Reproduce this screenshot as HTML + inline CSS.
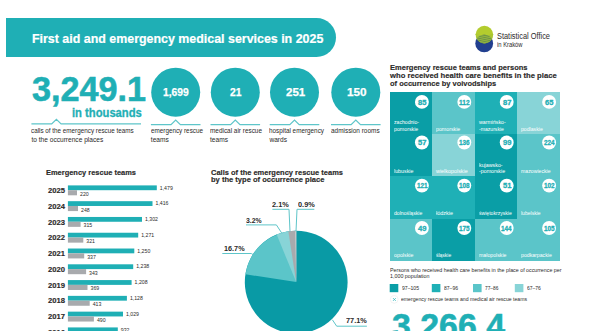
<!DOCTYPE html>
<html><head><meta charset="utf-8"><style>
html,body{margin:0;padding:0;background:#fff;width:590px;height:331px;overflow:hidden;position:relative}
</style></head><body>
<div style="position:absolute;left:6px;top:18px;width:330px;height:39px;background:#1fafb5;border-radius:0 19.5px 19.5px 0"></div>
<svg style="position:absolute;left:0;top:0" width="590" height="331">
<defs><clipPath id="cg"><circle cx="484.4" cy="34.6" r="8.8"/></clipPath></defs>
<circle cx="484.2" cy="43.4" r="8.9" fill="#213f8f"/>
<circle cx="484.4" cy="34.6" r="8.8" fill="#b3cc2e"/>
<g clip-path="url(#cg)"><circle cx="484.2" cy="43.4" r="8.9" fill="#6a8f48"/>
<g stroke="#a3c13c" stroke-width="0.75"><path d="M474 36.2 L495 40.6 M474 38.2 L495 42.6 M474 40.2 L495 44.6 M474 34.2 L495 38.6 M474 42.2 L495 46.6"/><path d="M474 40.6 L495 36.2 M474 42.6 L495 38.2 M474 44.6 L495 40.2 M474 38.6 L495 34.2 M474 46.6 L495 42.2" stroke="#93b640" stroke-width="0.5"/></g></g>
</svg>
<svg style="position:absolute;left:0;top:0" width="590" height="331"><polyline points="31.4,123.9 51.699999999999996,123.9 56.4,119.30000000000001 61.1,123.9 141,123.9" fill="none" stroke="#5ec5c9" stroke-width="1.2"/><circle cx="175.7" cy="92.2" r="24.5" fill="#1fafb5"/><polyline points="150.89999999999998,124.6 171.0,124.6 175.7,120.0 180.39999999999998,124.6 200.5,124.6" fill="none" stroke="#5ec5c9" stroke-width="1.2"/><circle cx="235.3" cy="92.2" r="24.5" fill="#1fafb5"/><polyline points="210.5,124.6 230.60000000000002,124.6 235.3,120.0 240.0,124.6 260.1,124.6" fill="none" stroke="#5ec5c9" stroke-width="1.2"/><circle cx="294.5" cy="92.2" r="24.5" fill="#1fafb5"/><polyline points="269.7,124.6 289.8,124.6 294.5,120.0 299.2,124.6 319.3,124.6" fill="none" stroke="#5ec5c9" stroke-width="1.2"/><circle cx="355.8" cy="92.2" r="24.5" fill="#1fafb5"/><polyline points="331.0,124.6 351.1,124.6 355.8,120.0 360.5,124.6 380.6,124.6" fill="none" stroke="#5ec5c9" stroke-width="1.2"/></svg>
<svg style="position:absolute;left:0;top:0" width="590" height="331" shape-rendering="crispEdges"><rect x="390" y="92" width="42" height="42" fill="#0a9ea6"/><rect x="432" y="92" width="43" height="42" fill="#5bc5c9"/><rect x="475" y="92" width="42" height="42" fill="#1fb0b6"/><rect x="517" y="92" width="43" height="42" fill="#88d4d7"/><rect x="390" y="134" width="42" height="42" fill="#0a9ea6"/><rect x="432" y="134" width="43" height="42" fill="#88d4d7"/><rect x="475" y="134" width="42" height="42" fill="#0a9ea6"/><rect x="517" y="134" width="43" height="42" fill="#5bc5c9"/><rect x="390" y="176" width="42" height="43" fill="#1fb0b6"/><rect x="432" y="176" width="43" height="43" fill="#1fb0b6"/><rect x="475" y="176" width="42" height="43" fill="#0a9ea6"/><rect x="517" y="176" width="43" height="43" fill="#5bc5c9"/><rect x="390" y="219" width="42" height="42" fill="#5bc5c9"/><rect x="432" y="219" width="43" height="42" fill="#0a9ea6"/><rect x="475" y="219" width="42" height="42" fill="#5bc5c9"/><rect x="517" y="219" width="43" height="42" fill="#5bc5c9"/></svg>
<svg style="position:absolute;left:0;top:0" width="590" height="331"><circle cx="421.90" cy="101.90" r="6.95" fill="#fff"/><circle cx="464.30" cy="101.90" r="6.95" fill="#fff"/><circle cx="506.70" cy="101.90" r="6.95" fill="#fff"/><circle cx="549.10" cy="101.90" r="6.95" fill="#fff"/><circle cx="421.90" cy="142.50" r="6.95" fill="#fff"/><circle cx="464.30" cy="142.50" r="6.95" fill="#fff"/><circle cx="506.70" cy="142.50" r="6.95" fill="#fff"/><circle cx="549.10" cy="142.50" r="6.95" fill="#fff"/><circle cx="421.90" cy="185.60" r="6.95" fill="#fff"/><circle cx="464.30" cy="185.60" r="6.95" fill="#fff"/><circle cx="506.70" cy="185.60" r="6.95" fill="#fff"/><circle cx="549.10" cy="185.60" r="6.95" fill="#fff"/><circle cx="421.90" cy="228.00" r="6.95" fill="#fff"/><circle cx="464.30" cy="228.00" r="6.95" fill="#fff"/><circle cx="506.70" cy="228.00" r="6.95" fill="#fff"/><circle cx="549.10" cy="228.00" r="6.95" fill="#fff"/><rect x="389.7" y="284" width="8.6" height="8.2" fill="#0a9ea6"/><rect x="431.8" y="284" width="8.6" height="8.2" fill="#1fb0b6"/><rect x="473" y="284" width="8.6" height="8.2" fill="#5bc5c9"/><rect x="514.8" y="284" width="8.6" height="8.2" fill="#88d4d7"/><circle cx="394.2" cy="299.4" r="3.9" fill="#fff" stroke="#e6e6e6" stroke-width="0.5"/><path d="M393 298.1 L395.8 300.9 M395.8 298.1 L393 300.9" stroke="#3dbac0" stroke-width="0.8"/></svg>
<svg style="position:absolute;left:0;top:0" width="590" height="331"><rect x="67.9" y="185.40" width="88.90" height="4.8" fill="#1fafb5"/><rect x="67.9" y="190.20" width="9.10" height="5.1" fill="#a8aaad"/><rect x="67.9" y="201.18" width="84.60" height="4.8" fill="#1fafb5"/><rect x="67.9" y="205.98" width="10.10" height="5.1" fill="#a8aaad"/><rect x="67.9" y="216.96" width="74.10" height="4.8" fill="#1fafb5"/><rect x="67.9" y="221.76" width="12.70" height="5.1" fill="#a8aaad"/><rect x="67.9" y="232.74" width="70.30" height="4.8" fill="#1fafb5"/><rect x="67.9" y="237.54" width="15.40" height="5.1" fill="#a8aaad"/><rect x="67.9" y="248.52" width="66.40" height="4.8" fill="#1fafb5"/><rect x="67.9" y="253.32" width="16.30" height="5.1" fill="#a8aaad"/><rect x="67.9" y="264.30" width="65.30" height="4.8" fill="#1fafb5"/><rect x="67.9" y="269.10" width="18.20" height="5.1" fill="#a8aaad"/><rect x="67.9" y="280.08" width="63.70" height="4.8" fill="#1fafb5"/><rect x="67.9" y="284.88" width="19.60" height="5.1" fill="#a8aaad"/><rect x="67.9" y="295.86" width="59.00" height="4.8" fill="#1fafb5"/><rect x="67.9" y="300.66" width="21.80" height="5.1" fill="#a8aaad"/><rect x="67.9" y="311.64" width="55.10" height="4.8" fill="#1fafb5"/><rect x="67.9" y="316.44" width="26.00" height="5.1" fill="#a8aaad"/><rect x="67.9" y="327.42" width="49.90" height="4.8" fill="#1fafb5"/><rect x="67.9" y="332.22" width="30.10" height="5.1" fill="#a8aaad"/></svg>
<svg style="position:absolute;left:0;top:0" width="590" height="331"><circle cx="296.2" cy="282.1" r="51.4" fill="#099aa5"/><path d="M296.2,282.1 L245.41,274.24 A51.4,51.4 0 0 1 296.20,230.70 Z" fill="#5bc5c9"/><path d="M296.2,282.1 L276.68,234.55 A51.4,51.4 0 0 1 296.20,230.70 Z" fill="#88d4d7"/><path d="M296.2,282.1 L288.34,231.31 A51.4,51.4 0 0 1 296.20,230.70 Z" fill="#a8aaad"/><path d="M296.2,282.1 L295.21,230.71 A51.4,51.4 0 0 1 296.20,230.70 Z" fill="#cfd0d1"/><g fill="none" stroke="#5ec5c9" stroke-width="1"><polyline points="272.4,209.3 289,209.3 290,231.5"/><polyline points="314.3,209.3 297,209.3 296,231.5"/><polyline points="246,224.9 276.4,224.9 282,233.5"/><polyline points="222.3,253.5 251.3,253.5 253.7,255"/><polyline points="366.9,326.2 336.7,326.2 332.4,319.8"/></g></svg>
<div style="position:absolute;left:31.50px;top:33px;font-family:'Liberation Sans',sans-serif;font-size:12.8px;line-height:12.8px;font-weight:bold;white-space:nowrap;color:#fff;transform:scaleX(0.9704);transform-origin:0 0;-webkit-text-stroke:0.2px #fff;">First aid and emergency medical services in 2025</div>
<div style="position:absolute;left:497.00px;top:32px;font-family:'Liberation Sans',sans-serif;font-size:8.4px;line-height:8.4px;font-weight:normal;white-space:nowrap;color:#2a2a2a;transform:scaleX(0.8849);transform-origin:0 0;">Statistical Office</div>
<div style="position:absolute;left:497.00px;top:42px;font-family:'Liberation Sans',sans-serif;font-size:6.4px;line-height:6.4px;font-weight:normal;white-space:nowrap;color:#2a2a2a;transform:scaleX(0.9087);transform-origin:0 0;">in Kraków</div>
<div style="position:absolute;left:31.80px;top:71px;font-family:'Liberation Sans',sans-serif;font-size:35px;line-height:35px;font-weight:bold;white-space:nowrap;color:#1fafb5;transform:scaleX(0.9762);transform-origin:0 0;-webkit-text-stroke:0.6px #1fafb5;">3,249.1</div>
<div style="position:absolute;left:72.00px;top:107px;font-family:'Liberation Sans',sans-serif;font-size:12px;line-height:12px;font-weight:bold;white-space:nowrap;color:#1fafb5;transform:scaleX(0.9348);transform-origin:0 0;-webkit-text-stroke:0.3px #1fafb5;">in thousands</div>
<div style="position:absolute;left:31.40px;top:128px;font-family:'Liberation Sans',sans-serif;font-size:6.6px;line-height:6.6px;font-weight:normal;white-space:nowrap;color:#2b2a29;transform:scaleX(0.9554);transform-origin:0 0;">calls of the emergency rescue teams</div>
<div style="position:absolute;left:31.40px;top:137px;font-family:'Liberation Sans',sans-serif;font-size:6.6px;line-height:6.6px;font-weight:normal;white-space:nowrap;color:#2b2a29;">to the occurrence places</div>
<div style="position:absolute;left:162.90px;top:87px;font-family:'Liberation Sans',sans-serif;font-size:11px;line-height:11px;font-weight:bold;white-space:nowrap;color:#fff;transform:scaleX(0.9371);transform-origin:0 0;-webkit-text-stroke:0.25px #fff;">1,699</div>
<div style="position:absolute;left:230.25px;top:87px;font-family:'Liberation Sans',sans-serif;font-size:11px;line-height:11px;font-weight:bold;white-space:nowrap;color:#fff;transform:scaleX(0.9388);transform-origin:0 0;-webkit-text-stroke:0.25px #fff;">21</div>
<div style="position:absolute;left:285.80px;top:87px;font-family:'Liberation Sans',sans-serif;font-size:11px;line-height:11px;font-weight:bold;white-space:nowrap;color:#fff;transform:scaleX(1.0458);transform-origin:0 0;-webkit-text-stroke:0.25px #fff;">251</div>
<div style="position:absolute;left:346.55px;top:87px;font-family:'Liberation Sans',sans-serif;font-size:11px;line-height:11px;font-weight:bold;white-space:nowrap;color:#fff;transform:scaleX(1.0621);transform-origin:0 0;-webkit-text-stroke:0.25px #fff;">150</div>
<div style="position:absolute;left:150.80px;top:128px;font-family:'Liberation Sans',sans-serif;font-size:6.6px;line-height:6.6px;font-weight:normal;white-space:nowrap;color:#2b2a29;transform:scaleX(0.9585);transform-origin:0 0;">emergency rescue</div>
<div style="position:absolute;left:150.80px;top:137px;font-family:'Liberation Sans',sans-serif;font-size:6.6px;line-height:6.6px;font-weight:normal;white-space:nowrap;color:#2b2a29;">teams</div>
<div style="position:absolute;left:210.00px;top:128px;font-family:'Liberation Sans',sans-serif;font-size:6.6px;line-height:6.6px;font-weight:normal;white-space:nowrap;color:#2b2a29;transform:scaleX(0.9717);transform-origin:0 0;">medical air rescue</div>
<div style="position:absolute;left:210.00px;top:137px;font-family:'Liberation Sans',sans-serif;font-size:6.6px;line-height:6.6px;font-weight:normal;white-space:nowrap;color:#2b2a29;">teams</div>
<div style="position:absolute;left:269.40px;top:128px;font-family:'Liberation Sans',sans-serif;font-size:6.6px;line-height:6.6px;font-weight:normal;white-space:nowrap;color:#2b2a29;transform:scaleX(0.9617);transform-origin:0 0;">hospital emergency</div>
<div style="position:absolute;left:269.40px;top:137px;font-family:'Liberation Sans',sans-serif;font-size:6.6px;line-height:6.6px;font-weight:normal;white-space:nowrap;color:#2b2a29;">wards</div>
<div style="position:absolute;left:330.80px;top:128px;font-family:'Liberation Sans',sans-serif;font-size:6.6px;line-height:6.6px;font-weight:normal;white-space:nowrap;color:#2b2a29;transform:scaleX(0.9750);transform-origin:0 0;">admission rooms</div>
<div style="position:absolute;left:390.20px;top:64px;font-family:'Liberation Sans',sans-serif;font-size:7.9px;line-height:7.9px;font-weight:bold;white-space:nowrap;color:#2b2a29;transform:scaleX(0.9529);transform-origin:0 0;-webkit-text-stroke:0.15px #2b2a29;">Emergency rescue teams and persons</div>
<div style="position:absolute;left:390.20px;top:72px;font-family:'Liberation Sans',sans-serif;font-size:7.9px;line-height:7.9px;font-weight:bold;white-space:nowrap;color:#2b2a29;transform:scaleX(0.9697);transform-origin:0 0;-webkit-text-stroke:0.15px #2b2a29;">who received health care benefits in the place</div>
<div style="position:absolute;left:390.20px;top:80px;font-family:'Liberation Sans',sans-serif;font-size:7.9px;line-height:7.9px;font-weight:bold;white-space:nowrap;color:#2b2a29;transform:scaleX(0.9497);transform-origin:0 0;-webkit-text-stroke:0.15px #2b2a29;">of occurrence by voivodships</div>
<div style="position:absolute;left:417.70px;top:99px;font-family:'Liberation Sans',sans-serif;font-size:7px;line-height:7px;font-weight:bold;white-space:nowrap;color:#1fafb5;transform:scaleX(1.0774);transform-origin:0 0;-webkit-text-stroke:0.3px #1fafb5;">85</div>
<div style="position:absolute;left:393.70px;top:119px;font-family:'Liberation Sans',sans-serif;font-size:6.1px;line-height:6.1px;font-weight:normal;white-space:nowrap;color:#fff;transform:scaleX(0.8386);transform-origin:0 0;">zachodnio-</div>
<div style="position:absolute;left:393.70px;top:126px;font-family:'Liberation Sans',sans-serif;font-size:6.1px;line-height:6.1px;font-weight:normal;white-space:nowrap;color:#fff;transform:scaleX(0.8645);transform-origin:0 0;">pomorskie</div>
<div style="position:absolute;left:459.00px;top:99px;font-family:'Liberation Sans',sans-serif;font-size:7px;line-height:7px;font-weight:bold;white-space:nowrap;color:#1fafb5;transform:scaleX(0.9383);transform-origin:0 0;-webkit-text-stroke:0.3px #1fafb5;">112</div>
<div style="position:absolute;left:436.10px;top:126px;font-family:'Liberation Sans',sans-serif;font-size:6.1px;line-height:6.1px;font-weight:normal;white-space:nowrap;color:#fff;transform:scaleX(0.8645);transform-origin:0 0;">pomorskie</div>
<div style="position:absolute;left:502.50px;top:99px;font-family:'Liberation Sans',sans-serif;font-size:7px;line-height:7px;font-weight:bold;white-space:nowrap;color:#1fafb5;transform:scaleX(1.0774);transform-origin:0 0;-webkit-text-stroke:0.3px #1fafb5;">87</div>
<div style="position:absolute;left:478.50px;top:119px;font-family:'Liberation Sans',sans-serif;font-size:6.1px;line-height:6.1px;font-weight:normal;white-space:nowrap;color:#fff;transform:scaleX(0.8570);transform-origin:0 0;">warmińsko-</div>
<div style="position:absolute;left:478.50px;top:126px;font-family:'Liberation Sans',sans-serif;font-size:6.1px;line-height:6.1px;font-weight:normal;white-space:nowrap;color:#fff;transform:scaleX(0.8357);transform-origin:0 0;">-mazurskie</div>
<div style="position:absolute;left:544.90px;top:99px;font-family:'Liberation Sans',sans-serif;font-size:7px;line-height:7px;font-weight:bold;white-space:nowrap;color:#1fafb5;transform:scaleX(1.0774);transform-origin:0 0;-webkit-text-stroke:0.3px #1fafb5;">65</div>
<div style="position:absolute;left:520.90px;top:126px;font-family:'Liberation Sans',sans-serif;font-size:6.1px;line-height:6.1px;font-weight:normal;white-space:nowrap;color:#fff;transform:scaleX(0.8466);transform-origin:0 0;">podlaskie</div>
<div style="position:absolute;left:417.70px;top:139px;font-family:'Liberation Sans',sans-serif;font-size:7px;line-height:7px;font-weight:bold;white-space:nowrap;color:#1fafb5;transform:scaleX(1.0774);transform-origin:0 0;-webkit-text-stroke:0.3px #1fafb5;">57</div>
<div style="position:absolute;left:393.70px;top:168px;font-family:'Liberation Sans',sans-serif;font-size:6.1px;line-height:6.1px;font-weight:normal;white-space:nowrap;color:#fff;transform:scaleX(0.8676);transform-origin:0 0;">lubuskie</div>
<div style="position:absolute;left:459.00px;top:139px;font-family:'Liberation Sans',sans-serif;font-size:7px;line-height:7px;font-weight:bold;white-space:nowrap;color:#1fafb5;transform:scaleX(0.9070);transform-origin:0 0;-webkit-text-stroke:0.3px #1fafb5;">136</div>
<div style="position:absolute;left:436.10px;top:168px;font-family:'Liberation Sans',sans-serif;font-size:6.1px;line-height:6.1px;font-weight:normal;white-space:nowrap;color:#fff;transform:scaleX(0.8829);transform-origin:0 0;">wielkopolskie</div>
<div style="position:absolute;left:502.50px;top:139px;font-family:'Liberation Sans',sans-serif;font-size:7px;line-height:7px;font-weight:bold;white-space:nowrap;color:#1fafb5;transform:scaleX(1.0774);transform-origin:0 0;-webkit-text-stroke:0.3px #1fafb5;">99</div>
<div style="position:absolute;left:478.50px;top:162px;font-family:'Liberation Sans',sans-serif;font-size:6.1px;line-height:6.1px;font-weight:normal;white-space:nowrap;color:#fff;transform:scaleX(0.8710);transform-origin:0 0;">kujawsko-</div>
<div style="position:absolute;left:478.50px;top:168px;font-family:'Liberation Sans',sans-serif;font-size:6.1px;line-height:6.1px;font-weight:normal;white-space:nowrap;color:#fff;transform:scaleX(0.8659);transform-origin:0 0;">-pomorskie</div>
<div style="position:absolute;left:543.80px;top:139px;font-family:'Liberation Sans',sans-serif;font-size:7px;line-height:7px;font-weight:bold;white-space:nowrap;color:#1fafb5;transform:scaleX(0.9070);transform-origin:0 0;-webkit-text-stroke:0.3px #1fafb5;">224</div>
<div style="position:absolute;left:520.90px;top:168px;font-family:'Liberation Sans',sans-serif;font-size:6.1px;line-height:6.1px;font-weight:normal;white-space:nowrap;color:#fff;transform:scaleX(0.8484);transform-origin:0 0;">mazowieckie</div>
<div style="position:absolute;left:416.60px;top:182px;font-family:'Liberation Sans',sans-serif;font-size:7px;line-height:7px;font-weight:bold;white-space:nowrap;color:#1fafb5;transform:scaleX(0.9070);transform-origin:0 0;-webkit-text-stroke:0.3px #1fafb5;">121</div>
<div style="position:absolute;left:393.70px;top:210px;font-family:'Liberation Sans',sans-serif;font-size:6.1px;line-height:6.1px;font-weight:normal;white-space:nowrap;color:#fff;transform:scaleX(0.8436);transform-origin:0 0;">dolnośląskie</div>
<div style="position:absolute;left:459.00px;top:182px;font-family:'Liberation Sans',sans-serif;font-size:7px;line-height:7px;font-weight:bold;white-space:nowrap;color:#1fafb5;transform:scaleX(0.9070);transform-origin:0 0;-webkit-text-stroke:0.3px #1fafb5;">108</div>
<div style="position:absolute;left:436.10px;top:210px;font-family:'Liberation Sans',sans-serif;font-size:6.1px;line-height:6.1px;font-weight:normal;white-space:nowrap;color:#fff;transform:scaleX(0.8909);transform-origin:0 0;">łódzkie</div>
<div style="position:absolute;left:502.50px;top:182px;font-family:'Liberation Sans',sans-serif;font-size:7px;line-height:7px;font-weight:bold;white-space:nowrap;color:#1fafb5;transform:scaleX(1.0774);transform-origin:0 0;-webkit-text-stroke:0.3px #1fafb5;">51</div>
<div style="position:absolute;left:478.50px;top:210px;font-family:'Liberation Sans',sans-serif;font-size:6.1px;line-height:6.1px;font-weight:normal;white-space:nowrap;color:#fff;transform:scaleX(0.8350);transform-origin:0 0;">świętokrzyskie</div>
<div style="position:absolute;left:543.80px;top:182px;font-family:'Liberation Sans',sans-serif;font-size:7px;line-height:7px;font-weight:bold;white-space:nowrap;color:#1fafb5;transform:scaleX(0.9070);transform-origin:0 0;-webkit-text-stroke:0.3px #1fafb5;">102</div>
<div style="position:absolute;left:520.90px;top:210px;font-family:'Liberation Sans',sans-serif;font-size:6.1px;line-height:6.1px;font-weight:normal;white-space:nowrap;color:#fff;transform:scaleX(0.8264);transform-origin:0 0;">lubelskie</div>
<div style="position:absolute;left:417.70px;top:225px;font-family:'Liberation Sans',sans-serif;font-size:7px;line-height:7px;font-weight:bold;white-space:nowrap;color:#1fafb5;transform:scaleX(1.0774);transform-origin:0 0;-webkit-text-stroke:0.3px #1fafb5;">49</div>
<div style="position:absolute;left:393.70px;top:252px;font-family:'Liberation Sans',sans-serif;font-size:6.1px;line-height:6.1px;font-weight:normal;white-space:nowrap;color:#fff;transform:scaleX(0.8676);transform-origin:0 0;">opolskie</div>
<div style="position:absolute;left:459.00px;top:225px;font-family:'Liberation Sans',sans-serif;font-size:7px;line-height:7px;font-weight:bold;white-space:nowrap;color:#1fafb5;transform:scaleX(0.9070);transform-origin:0 0;-webkit-text-stroke:0.3px #1fafb5;">175</div>
<div style="position:absolute;left:436.10px;top:252px;font-family:'Liberation Sans',sans-serif;font-size:6.1px;line-height:6.1px;font-weight:normal;white-space:nowrap;color:#fff;transform:scaleX(0.8154);transform-origin:0 0;">śląskie</div>
<div style="position:absolute;left:501.40px;top:225px;font-family:'Liberation Sans',sans-serif;font-size:7px;line-height:7px;font-weight:bold;white-space:nowrap;color:#1fafb5;transform:scaleX(0.9070);transform-origin:0 0;-webkit-text-stroke:0.3px #1fafb5;">144</div>
<div style="position:absolute;left:478.50px;top:252px;font-family:'Liberation Sans',sans-serif;font-size:6.1px;line-height:6.1px;font-weight:normal;white-space:nowrap;color:#fff;transform:scaleX(0.8544);transform-origin:0 0;">małopolskie</div>
<div style="position:absolute;left:543.80px;top:225px;font-family:'Liberation Sans',sans-serif;font-size:7px;line-height:7px;font-weight:bold;white-space:nowrap;color:#1fafb5;transform:scaleX(0.9070);transform-origin:0 0;-webkit-text-stroke:0.3px #1fafb5;">105</div>
<div style="position:absolute;left:520.90px;top:252px;font-family:'Liberation Sans',sans-serif;font-size:6.1px;line-height:6.1px;font-weight:normal;white-space:nowrap;color:#fff;transform:scaleX(0.8497);transform-origin:0 0;">podkarpackie</div>
<div style="position:absolute;left:402.00px;top:285px;font-family:'Liberation Sans',sans-serif;font-size:6.2px;line-height:6.2px;font-weight:normal;white-space:nowrap;color:#2b2a29;transform:scaleX(0.8230);transform-origin:0 0;">97–105</div>
<div style="position:absolute;left:444.10px;top:285px;font-family:'Liberation Sans',sans-serif;font-size:6.2px;line-height:6.2px;font-weight:normal;white-space:nowrap;color:#2b2a29;transform:scaleX(0.8131);transform-origin:0 0;">87–96</div>
<div style="position:absolute;left:485.30px;top:285px;font-family:'Liberation Sans',sans-serif;font-size:6.2px;line-height:6.2px;font-weight:normal;white-space:nowrap;color:#2b2a29;transform:scaleX(0.7782);transform-origin:0 0;">77–86</div>
<div style="position:absolute;left:527.10px;top:285px;font-family:'Liberation Sans',sans-serif;font-size:6.2px;line-height:6.2px;font-weight:normal;white-space:nowrap;color:#2b2a29;transform:scaleX(0.8073);transform-origin:0 0;">67–76</div>
<div style="position:absolute;left:389.70px;top:267px;font-family:'Liberation Sans',sans-serif;font-size:6.0px;line-height:6.0px;font-weight:normal;white-space:nowrap;color:#2b2a29;transform:scaleX(0.8850);transform-origin:0 0;">Persons who received health care benefits in the place of occurrence per</div>
<div style="position:absolute;left:389.70px;top:273px;font-family:'Liberation Sans',sans-serif;font-size:6.0px;line-height:6.0px;font-weight:normal;white-space:nowrap;color:#2b2a29;transform:scaleX(0.8901);transform-origin:0 0;">1,000 population</div>
<div style="position:absolute;left:400.80px;top:296px;font-family:'Liberation Sans',sans-serif;font-size:6.0px;line-height:6.0px;font-weight:normal;white-space:nowrap;color:#2b2a29;transform:scaleX(0.8548);transform-origin:0 0;">emergency rescue teams and medical air rescue teams</div>
<div style="position:absolute;left:391.80px;top:308px;font-family:'Liberation Sans',sans-serif;font-size:35px;line-height:35px;font-weight:bold;white-space:nowrap;color:#1fafb5;transform:scaleX(0.9676);transform-origin:0 0;-webkit-text-stroke:0.6px #1fafb5;">3,266.4</div>
<div style="position:absolute;left:46.00px;top:169px;font-family:'Liberation Sans',sans-serif;font-size:7.6px;line-height:7.6px;font-weight:bold;white-space:nowrap;color:#2b2a29;transform:scaleX(0.9824);transform-origin:0 0;-webkit-text-stroke:0.15px #2b2a29;">Emergency rescue teams</div>
<div style="position:absolute;left:159.80px;top:186px;font-family:'Liberation Sans',sans-serif;font-size:5.2px;line-height:5.2px;font-weight:normal;white-space:nowrap;color:#2b2a29;">1,479</div>
<div style="position:absolute;left:80.00px;top:192px;font-family:'Liberation Sans',sans-serif;font-size:5.2px;line-height:5.2px;font-weight:normal;white-space:nowrap;color:#2b2a29;">220</div>
<div style="position:absolute;left:48.00px;top:187px;font-family:'Liberation Sans',sans-serif;font-size:7.2px;line-height:7.2px;font-weight:bold;white-space:nowrap;color:#2b2a29;transform:scaleX(1.0625);transform-origin:0 0;-webkit-text-stroke:0.15px #2b2a29;">2025</div>
<div style="position:absolute;left:155.50px;top:201px;font-family:'Liberation Sans',sans-serif;font-size:5.2px;line-height:5.2px;font-weight:normal;white-space:nowrap;color:#2b2a29;">1,416</div>
<div style="position:absolute;left:81.00px;top:208px;font-family:'Liberation Sans',sans-serif;font-size:5.2px;line-height:5.2px;font-weight:normal;white-space:nowrap;color:#2b2a29;">248</div>
<div style="position:absolute;left:48.00px;top:203px;font-family:'Liberation Sans',sans-serif;font-size:7.2px;line-height:7.2px;font-weight:bold;white-space:nowrap;color:#2b2a29;transform:scaleX(1.0625);transform-origin:0 0;-webkit-text-stroke:0.15px #2b2a29;">2024</div>
<div style="position:absolute;left:145.00px;top:217px;font-family:'Liberation Sans',sans-serif;font-size:5.2px;line-height:5.2px;font-weight:normal;white-space:nowrap;color:#2b2a29;">1,302</div>
<div style="position:absolute;left:83.60px;top:223px;font-family:'Liberation Sans',sans-serif;font-size:5.2px;line-height:5.2px;font-weight:normal;white-space:nowrap;color:#2b2a29;">315</div>
<div style="position:absolute;left:48.00px;top:219px;font-family:'Liberation Sans',sans-serif;font-size:7.2px;line-height:7.2px;font-weight:bold;white-space:nowrap;color:#2b2a29;transform:scaleX(1.0625);transform-origin:0 0;-webkit-text-stroke:0.15px #2b2a29;">2023</div>
<div style="position:absolute;left:141.20px;top:233px;font-family:'Liberation Sans',sans-serif;font-size:5.2px;line-height:5.2px;font-weight:normal;white-space:nowrap;color:#2b2a29;">1,271</div>
<div style="position:absolute;left:86.30px;top:239px;font-family:'Liberation Sans',sans-serif;font-size:5.2px;line-height:5.2px;font-weight:normal;white-space:nowrap;color:#2b2a29;">321</div>
<div style="position:absolute;left:48.00px;top:234px;font-family:'Liberation Sans',sans-serif;font-size:7.2px;line-height:7.2px;font-weight:bold;white-space:nowrap;color:#2b2a29;transform:scaleX(1.0625);transform-origin:0 0;-webkit-text-stroke:0.15px #2b2a29;">2022</div>
<div style="position:absolute;left:137.30px;top:249px;font-family:'Liberation Sans',sans-serif;font-size:5.2px;line-height:5.2px;font-weight:normal;white-space:nowrap;color:#2b2a29;">1,250</div>
<div style="position:absolute;left:87.20px;top:255px;font-family:'Liberation Sans',sans-serif;font-size:5.2px;line-height:5.2px;font-weight:normal;white-space:nowrap;color:#2b2a29;">337</div>
<div style="position:absolute;left:48.00px;top:250px;font-family:'Liberation Sans',sans-serif;font-size:7.2px;line-height:7.2px;font-weight:bold;white-space:nowrap;color:#2b2a29;transform:scaleX(1.0625);transform-origin:0 0;-webkit-text-stroke:0.15px #2b2a29;">2021</div>
<div style="position:absolute;left:136.20px;top:264px;font-family:'Liberation Sans',sans-serif;font-size:5.2px;line-height:5.2px;font-weight:normal;white-space:nowrap;color:#2b2a29;">1,238</div>
<div style="position:absolute;left:89.10px;top:271px;font-family:'Liberation Sans',sans-serif;font-size:5.2px;line-height:5.2px;font-weight:normal;white-space:nowrap;color:#2b2a29;">343</div>
<div style="position:absolute;left:48.00px;top:266px;font-family:'Liberation Sans',sans-serif;font-size:7.2px;line-height:7.2px;font-weight:bold;white-space:nowrap;color:#2b2a29;transform:scaleX(1.0625);transform-origin:0 0;-webkit-text-stroke:0.15px #2b2a29;">2020</div>
<div style="position:absolute;left:134.60px;top:280px;font-family:'Liberation Sans',sans-serif;font-size:5.2px;line-height:5.2px;font-weight:normal;white-space:nowrap;color:#2b2a29;">1,208</div>
<div style="position:absolute;left:90.50px;top:286px;font-family:'Liberation Sans',sans-serif;font-size:5.2px;line-height:5.2px;font-weight:normal;white-space:nowrap;color:#2b2a29;">369</div>
<div style="position:absolute;left:48.00px;top:282px;font-family:'Liberation Sans',sans-serif;font-size:7.2px;line-height:7.2px;font-weight:bold;white-space:nowrap;color:#2b2a29;transform:scaleX(1.0625);transform-origin:0 0;-webkit-text-stroke:0.15px #2b2a29;">2019</div>
<div style="position:absolute;left:129.90px;top:296px;font-family:'Liberation Sans',sans-serif;font-size:5.2px;line-height:5.2px;font-weight:normal;white-space:nowrap;color:#2b2a29;">1,128</div>
<div style="position:absolute;left:92.70px;top:302px;font-family:'Liberation Sans',sans-serif;font-size:5.2px;line-height:5.2px;font-weight:normal;white-space:nowrap;color:#2b2a29;">413</div>
<div style="position:absolute;left:48.00px;top:297px;font-family:'Liberation Sans',sans-serif;font-size:7.2px;line-height:7.2px;font-weight:bold;white-space:nowrap;color:#2b2a29;transform:scaleX(1.0625);transform-origin:0 0;-webkit-text-stroke:0.15px #2b2a29;">2018</div>
<div style="position:absolute;left:126.00px;top:312px;font-family:'Liberation Sans',sans-serif;font-size:5.2px;line-height:5.2px;font-weight:normal;white-space:nowrap;color:#2b2a29;">1,029</div>
<div style="position:absolute;left:96.90px;top:318px;font-family:'Liberation Sans',sans-serif;font-size:5.2px;line-height:5.2px;font-weight:normal;white-space:nowrap;color:#2b2a29;">490</div>
<div style="position:absolute;left:48.00px;top:313px;font-family:'Liberation Sans',sans-serif;font-size:7.2px;line-height:7.2px;font-weight:bold;white-space:nowrap;color:#2b2a29;transform:scaleX(1.0625);transform-origin:0 0;-webkit-text-stroke:0.15px #2b2a29;">2017</div>
<div style="position:absolute;left:120.80px;top:328px;font-family:'Liberation Sans',sans-serif;font-size:5.2px;line-height:5.2px;font-weight:normal;white-space:nowrap;color:#2b2a29;">932</div>
<div style="position:absolute;left:101.00px;top:334px;font-family:'Liberation Sans',sans-serif;font-size:5.2px;line-height:5.2px;font-weight:normal;white-space:nowrap;color:#2b2a29;">554</div>
<div style="position:absolute;left:48.00px;top:329px;font-family:'Liberation Sans',sans-serif;font-size:7.2px;line-height:7.2px;font-weight:bold;white-space:nowrap;color:#2b2a29;transform:scaleX(1.0625);transform-origin:0 0;-webkit-text-stroke:0.15px #2b2a29;">2016</div>
<div style="position:absolute;left:210.50px;top:169px;font-family:'Liberation Sans',sans-serif;font-size:7.7px;line-height:7.7px;font-weight:bold;white-space:nowrap;color:#2b2a29;transform:scaleX(0.9745);transform-origin:0 0;-webkit-text-stroke:0.15px #2b2a29;">Calls of the emergency rescue teams</div>
<div style="position:absolute;left:210.50px;top:176px;font-family:'Liberation Sans',sans-serif;font-size:7.7px;line-height:7.7px;font-weight:bold;white-space:nowrap;color:#2b2a29;transform:scaleX(0.9830);transform-origin:0 0;-webkit-text-stroke:0.15px #2b2a29;">by the type of occurrence place</div>
<div style="position:absolute;left:272.40px;top:202px;font-family:'Liberation Sans',sans-serif;font-size:6.9px;line-height:6.9px;font-weight:bold;white-space:nowrap;color:#2b2a29;transform:scaleX(1.0688);transform-origin:0 0;">2.1%</div>
<div style="position:absolute;left:297.60px;top:202px;font-family:'Liberation Sans',sans-serif;font-size:6.9px;line-height:6.9px;font-weight:bold;white-space:nowrap;color:#2b2a29;transform:scaleX(1.0688);transform-origin:0 0;">0.9%</div>
<div style="position:absolute;left:245.90px;top:218px;font-family:'Liberation Sans',sans-serif;font-size:6.9px;line-height:6.9px;font-weight:bold;white-space:nowrap;color:#2b2a29;transform:scaleX(0.9988);transform-origin:0 0;">3.2%</div>
<div style="position:absolute;left:223.70px;top:246px;font-family:'Liberation Sans',sans-serif;font-size:6.9px;line-height:6.9px;font-weight:bold;white-space:nowrap;color:#2b2a29;transform:scaleX(1.0539);transform-origin:0 0;">16.7%</div>
<div style="position:absolute;left:346.30px;top:318px;font-family:'Liberation Sans',sans-serif;font-size:6.9px;line-height:6.9px;font-weight:bold;white-space:nowrap;color:#2b2a29;transform:scaleX(1.0641);transform-origin:0 0;">77.1%</div>
</body></html>
